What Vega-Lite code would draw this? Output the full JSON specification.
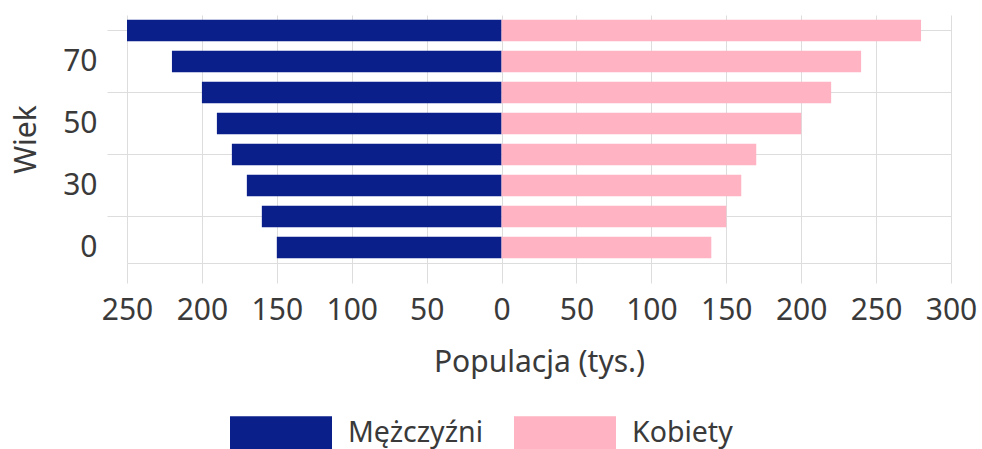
{
  "$schema": "https://vega.github.io/schema/vega-lite/v6.json",
  "width": 824,
  "height": 248,
  "autosize": {"type": "none"},
  "padding": {"left": 127, "top": 15, "right": 31, "bottom": 186},
  "background": "white",
  "config": {
    "view": {"stroke": null},
    "font": "Noto Sans",
    "axis": {"labelFont": "Noto Sans", "titleFont": "Noto Sans", "labelColor": "#3a3a3a", "titleColor": "#3a3a3a", "titleFontWeight": "normal"},
    "legend": {"labelFont": "Noto Sans", "labelColor": "#3a3a3a"}
  },
  "data": {
    "values": [
      {"age": "0", "sex": "Mężczyźni", "value": -150},
      {"age": "20", "sex": "Mężczyźni", "value": -160},
      {"age": "30", "sex": "Mężczyźni", "value": -170},
      {"age": "40", "sex": "Mężczyźni", "value": -180},
      {"age": "50", "sex": "Mężczyźni", "value": -190},
      {"age": "60", "sex": "Mężczyźni", "value": -200},
      {"age": "70", "sex": "Mężczyźni", "value": -220},
      {"age": "80", "sex": "Mężczyźni", "value": -250},
      {"age": "0", "sex": "Kobiety", "value": 140},
      {"age": "20", "sex": "Kobiety", "value": 150},
      {"age": "30", "sex": "Kobiety", "value": 160},
      {"age": "40", "sex": "Kobiety", "value": 170},
      {"age": "50", "sex": "Kobiety", "value": 200},
      {"age": "60", "sex": "Kobiety", "value": 220},
      {"age": "70", "sex": "Kobiety", "value": 240},
      {"age": "80", "sex": "Kobiety", "value": 280}
    ]
  },
  "mark": {"type": "bar"},
  "encoding": {
    "y": {
      "field": "age",
      "type": "ordinal",
      "sort": ["80", "70", "60", "50", "40", "30", "20", "0"],
      "scale": {"paddingInner": 0.3},
      "axis": {
        "title": "Wiek",
        "titleFontSize": 30,
        "titlePadding": 21,
        "labelFontSize": 30,
        "labelPadding": 10,
        "labelExpr": "indexof(['0','30','50','70'], datum.value) >= 0 ? datum.value : ''",
        "domain": false,
        "tickSize": 20,
        "tickColor": "#dddddd",
        "gridColor": "#dddddd",
        "grid": true,
        "gridOpacity": {"condition": {"test": "indexof(['80','60','40','20'], datum.value) >= 0", "value": 1}, "value": 0},
        "tickOpacity": {"condition": {"test": "indexof(['80','60','40','20'], datum.value) >= 0", "value": 1}, "value": 0}
      }
    },
    "x": {
      "field": "value",
      "type": "quantitative",
      "scale": {"domain": [-250, 300], "nice": false},
      "axis": {
        "title": "Populacja (tys.)",
        "titleFontSize": 30,
        "titlePadding": 22,
        "labelFontSize": 30,
        "labelPadding": 12,
        "values": [-250, -200, -150, -100, -50, 0, 50, 100, 150, 200, 250, 300],
        "labelExpr": "abs(datum.value)",
        "tickSize": 20,
        "tickColor": "#dddddd",
        "domainColor": "#dddddd",
        "gridColor": "#dddddd",
        "labelFlush": false
      }
    },
    "color": {
      "field": "sex",
      "type": "nominal",
      "scale": {"domain": ["Mężczyźni", "Kobiety"], "range": ["#0b1f8a", "#ffb3c3"]},
      "legend": {
        "title": null,
        "orient": "none",
        "direction": "horizontal",
        "legendX": 103,
        "legendY": 367,
        "symbolType": "M-1,-0.33H1V0.33H-1Z",
        "symbolSize": 10404,
        "symbolStrokeWidth": 0,
        "labelFontSize": 28.5,
        "labelOffset": 16,
        "columnPadding": 30
      }
    }
  }
}
